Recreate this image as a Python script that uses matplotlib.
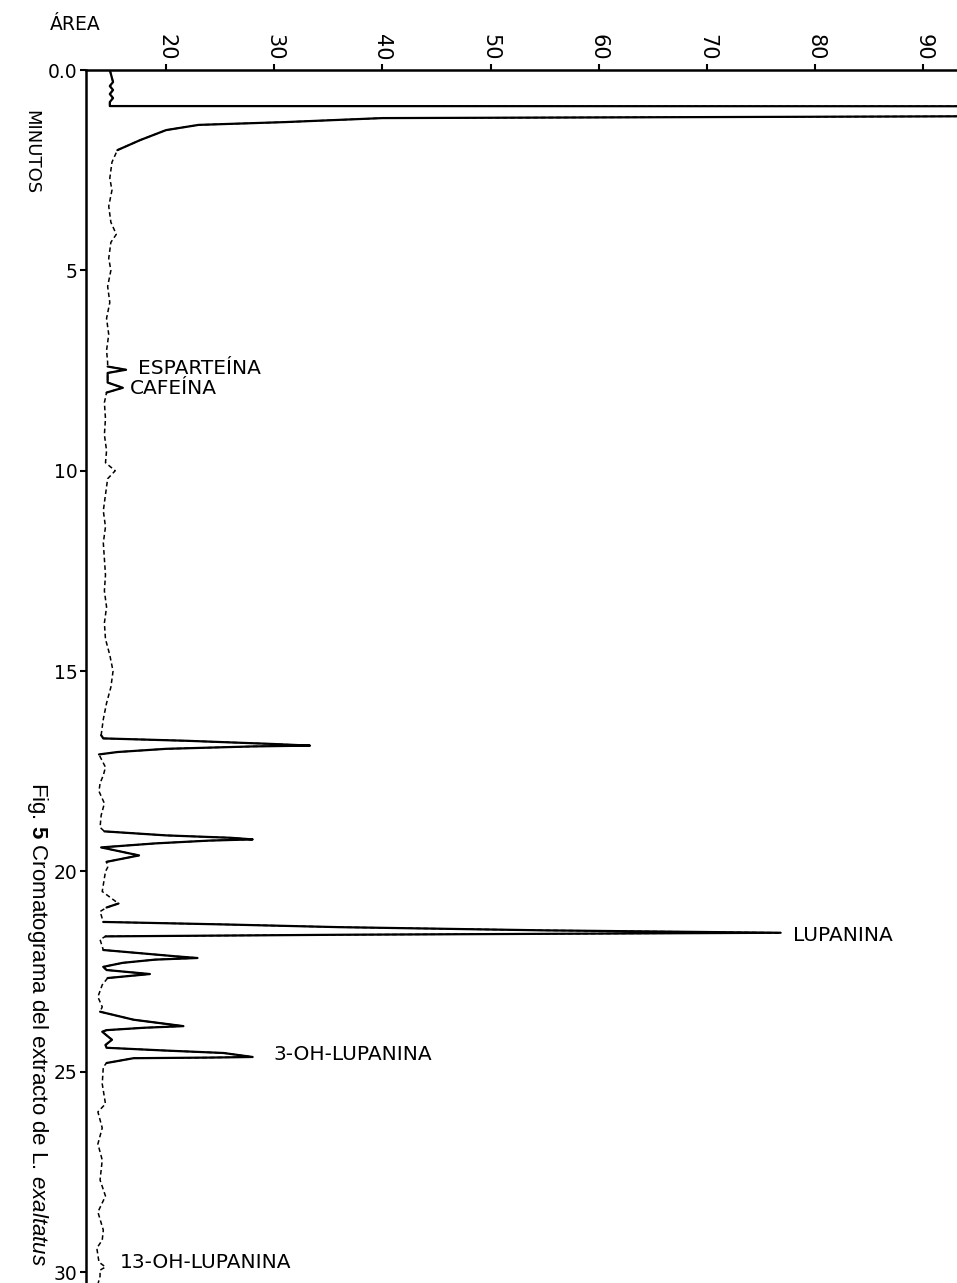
import numpy as np
import matplotlib
matplotlib.use('Agg')
import matplotlib.pyplot as plt

plt.rcParams['font.family'] = 'DejaVu Sans'
plt.rcParams['mathtext.fontset'] = 'custom'
plt.rcParams['mathtext.rm'] = 'Liberation Sans'
plt.rcParams['mathtext.it'] = 'Liberation Sans:italic'
plt.rcParams['mathtext.bf'] = 'Liberation Sans:bold'

# chromatogram trace: retention time (min) and detector area
time = [0.0, 0.3, 0.4, 0.5, 0.6, 0.7, 0.8, 0.9, 0.905, 1.15, 1.2, 1.3, 1.37, 1.5, 1.75, 2.0,
        2.3, 2.7, 3.0, 3.4, 3.8, 4.1, 4.3, 4.7, 5.0, 5.4, 5.8, 6.2, 6.6, 7.0, 7.3,
        7.4, 7.48, 7.56, 7.8, 7.93, 8.05, 8.3, 8.7, 9.1, 9.5, 9.8, 10.0, 10.2, 10.6,
        11.0, 11.4, 11.8, 12.2, 12.6, 13.0, 13.4, 13.8, 14.2, 14.6, 15.0, 15.4, 15.8,
        16.2, 16.6, 16.68, 16.74, 16.82, 16.86, 16.88, 16.94, 17.02, 17.08,
        17.4, 17.6, 17.8, 18.0, 18.3, 18.6, 18.9, 19.0, 19.1, 19.16, 19.2, 19.23, 19.3,
        19.4, 19.6, 19.76, 19.9, 20.0, 20.5, 20.8, 20.9, 21.0,
        21.26, 21.32, 21.39, 21.47, 21.53, 21.55, 21.58, 21.62,
        21.7, 21.96, 22.05, 22.12, 22.16, 22.2, 22.28, 22.38,
        22.46, 22.56, 22.66, 22.83, 23.13, 23.38, 23.5, 23.7, 23.86, 23.9, 23.96,
        24.0, 24.2, 24.33, 24.4, 24.47, 24.53, 24.63, 24.645, 24.66, 24.78,
        24.88, 25.3, 25.8, 26.0, 26.4, 26.8, 27.2, 27.7, 28.1, 28.5, 28.95, 29.2, 29.4,
        29.75, 29.87, 29.95, 30.1, 30.3]
area = [14.8, 15.1, 14.8, 15.1, 14.8, 15.1, 14.8, 14.8, 100.0, 100.0, 40.0, 31.0, 23.0, 20.0, 17.6, 15.5,
        15.0, 14.8, 15.0, 14.7, 14.9, 15.4, 14.9, 14.7, 14.9, 14.6, 14.8, 14.5, 14.7, 14.5, 14.6,
        14.6, 16.3, 14.6, 14.6, 16.0, 14.5, 14.3, 14.4, 14.3, 14.5, 14.4, 15.3, 14.6, 14.4,
        14.2, 14.4, 14.2, 14.3, 14.4, 14.3, 14.5, 14.3, 14.4, 14.8, 15.1, 14.9, 14.5,
        14.2, 14.0, 14.2, 22.0, 30.0, 33.3, 28.0, 20.0, 15.5, 13.8,
        14.4, 14.2, 13.9, 13.8, 14.3, 14.0, 13.9, 14.3, 20.0, 26.0, 28.0, 24.0, 19.0,
        14.0, 17.5, 14.5, 14.6, 14.4, 14.1, 15.6, 14.5, 13.9,
        14.2, 25.0, 36.0, 55.0, 76.8, 60.0, 36.0, 14.4,
        13.9, 14.2, 18.0, 21.0, 22.9, 19.0, 16.0, 14.2,
        14.5, 18.5, 14.6, 14.1, 13.7, 14.1, 13.9, 17.0, 21.6, 18.0, 14.5,
        14.1, 15.0, 14.4, 14.5, 20.0, 25.3, 28.0, 24.0, 17.0, 14.5,
        14.2, 14.1, 14.4, 13.7, 14.1, 13.7, 14.1, 13.9, 14.4, 13.7, 14.2, 14.1, 13.6,
        13.8, 14.4, 13.9, 13.9, 13.7]

# intervals drawn with a solid stroke (peaks); the baseline is printed broken
solid_windows = [(0.0, 2.1), (7.35, 8.1), (16.6, 17.12), (18.95, 19.85), (20.7, 20.95),
                 (21.2, 21.68), (21.95, 22.7), (23.45, 24.85)]

x_ticks = [20, 30, 40, 50, 60, 70, 80, 90]
y_ticks = [0, 5, 10, 15, 20, 25, 30]
y_ticklabels = ['0.0', '5', '10', '15', '20', '25', '30']

peak_names = ['ESPARTEÍNA', 'CAFEÍNA', 'LUPANINA', '3-OH-LUPANINA', '13-OH-LUPANINA']
label_time = [7.44, 7.96, 21.59, 24.56, 29.75]
label_area = [17.4, 16.7, 77.9, 29.9, 15.7]

W, H = 957, 1283
fig = plt.figure(figsize=(W / 100, H / 100), dpi=100)
ax = fig.add_axes([86 / W, 0, (W - 86) / W, (H - 70) / H])

t = np.array(time)
a = np.array(area)
solid = np.zeros_like(t, dtype=bool)
for t0, t1 in solid_windows:
    solid |= (t >= t0) & (t <= t1)

ax.plot(a, t, color='black', lw=1.1, linestyle=(0, (3, 2)))
ax.plot(np.where(solid, a, np.nan), t, color='black', lw=1.6, solid_capstyle='round')

ax.set_xlim(12.6, 93.1)
ax.set_ylim(30.27, 0)

for s in ['right', 'bottom']:
    ax.spines[s].set_visible(False)
for s in ['left', 'top']:
    ax.spines[s].set_linewidth(1.8)

ax.xaxis.tick_top()
ax.set_xticks(x_ticks)
ax.set_xticklabels([str(v) for v in x_ticks], rotation=270, fontsize=15)
ax.set_yticks(y_ticks)
ax.set_yticklabels(y_ticklabels, fontsize=13.5)
ax.tick_params(axis='x', direction='out', length=4, width=1.5, pad=3)
ax.tick_params(axis='y', direction='out', length=4, width=1.5, pad=2)

for name, tt, aa in zip(peak_names, label_time, label_area):
    ax.text(aa, tt, name, fontsize=14.5, va='center', ha='left')

fig.text(50 / W, 1 - 25 / H, 'ÁREA', fontsize=13.5, va='center', ha='left')
fig.text(31 / W, 1 - 152 / H, 'MINUTOS', fontsize=13, rotation=270, va='center', ha='center')
fig.text(37 / W, 1 - 1024 / H,
         r'Fig. $\mathbf{5}$ Cromatograma del extracto de L. $\mathit{exaltatus}$',
         family='Liberation Sans', fontsize=16, rotation=270, va='center', ha='center')

fig.savefig('out.png', dpi=100)
